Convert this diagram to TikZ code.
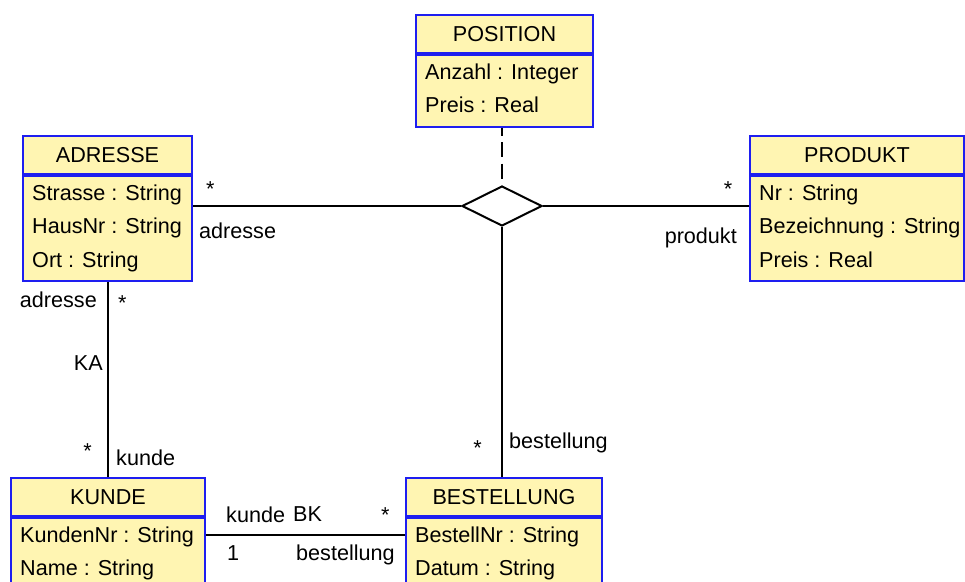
\documentclass[tikz,border=0pt]{standalone}
\usepackage{fontspec}
\setmainfont{Liberation Sans}
\usetikzlibrary{shapes.geometric,calc}
\definecolor{umlfill}{RGB}{255,245,178}
\definecolor{umlline}{RGB}{30,30,240}
\tikzset{
  classhead/.style={draw=umlline, fill=umlfill, line width=2, inner sep=0,
    minimum height=38, anchor=north west},
  classbody/.style={classhead},
  attr/.style={anchor=base west, inner sep=0},
  role/.style={inner sep=0},
  assoc/.style={line width=2},
}

\begin{document}
\begin{tikzpicture}[x=1pt, y=-1pt, font=\fontsize{21.6}{26}\selectfont]
\useasboundingbox (0,0) rectangle (965,581);

% association class in the middle
\node [diamond, draw, line width=2, fill=white, aspect=2, inner sep=0,
  minimum width=80, minimum height=40] (rel) at (502,206) {};

% classes
\node [classhead, minimum width=177] (position) at (415,14) {POSITION};
\node [classbody, minimum width=177, minimum height=71.5] (position-body) at (position.south west) {};
\foreach \a [count=\i] in {Anzahl : Integer, Preis : Real}
  \node [attr] at ($(position-body.north west)+(10,{25+33.5*(\i-1)})$) {\a};

\node [classhead, minimum width=169] (adresse) at (22,135) {ADRESSE};
\node [classbody, minimum width=169, minimum height=105] (adresse-body) at (adresse.south west) {};
\foreach \a [count=\i] in {Strasse : String, HausNr : String, Ort : String}
  \node [attr] at ($(adresse-body.north west)+(10,{25+33.5*(\i-1)})$) {\a};

\node [classhead, minimum width=214] (produkt) at (749,135) {PRODUKT};
\node [classbody, minimum width=214, minimum height=105] (produkt-body) at (produkt.south west) {};
\foreach \a [count=\i] in {Nr : String, Bezeichnung : String, Preis : Real}
  \node [attr] at ($(produkt-body.north west)+(10,{25+33.5*(\i-1)})$) {\a};

\node [classhead, minimum width=194] (kunde) at (10,477) {KUNDE};
\node [classbody, minimum width=194, minimum height=71.5] (kunde-body) at (kunde.south west) {};
\foreach \a [count=\i] in {KundenNr : String, Name : String}
  \node [attr] at ($(kunde-body.north west)+(10,{25+33.5*(\i-1)})$) {\a};

\node [classhead, minimum width=196] (bestellung) at (405,477) {BESTELLUNG};
\node [classbody, minimum width=196, minimum height=71.5] (bestellung-body) at (bestellung.south west) {};
\foreach \a [count=\i] in {BestellNr : String, Datum : String}
  \node [attr] at ($(bestellung-body.north west)+(10,{25+33.5*(\i-1)})$) {\a};

% associations
\draw [assoc] (rel.west) -- (rel.west -| adresse-body.east);
\draw [assoc] (rel.east) -- (rel.east -| produkt-body.west);
\draw [assoc] (rel.south) -- (rel.south |- bestellung.north);
\draw [assoc, dash pattern=on 15 off 6.5, dash phase=7]
  (rel.north |- position-body.south) -- (rel.north);
\draw [assoc] (adresse-body.south) -- (adresse-body.south |- kunde.north);
\coordinate (bk) at ($(kunde-body.north east)+(0,18)$);
\draw [assoc] (bk) -- (bk -| bestellung-body.west);

% roles and multiplicities
\node [role, anchor=base west] at (206,196) {*};
\node [role, anchor=base west] at (199,238) {adresse};
\node [role, anchor=base] at (728,196) {*};
\node [role, anchor=base east] at (737,243) {produkt};
\node [role, anchor=base east] at (97,307) {adresse};
\node [role, anchor=base west] at (118,310) {*};
\node [role, anchor=base east] at (103,370) {KA};
\node [role, anchor=base east] at (92,458) {*};
\node [role, anchor=base west] at (116,465) {kunde};
\node [role, anchor=base east] at (482,455) {*};
\node [role, anchor=base west] at (509,448) {bestellung};
\node [role, anchor=base west] at (226,522) {kunde};
\node [role, anchor=base west] at (293,521) {BK};
\node [role, anchor=base west] at (381,522) {*};
\node [role, anchor=base west] at (227,560) {1};
\node [role, anchor=base west] at (296,560) {bestellung};

\end{tikzpicture}
\end{document}
